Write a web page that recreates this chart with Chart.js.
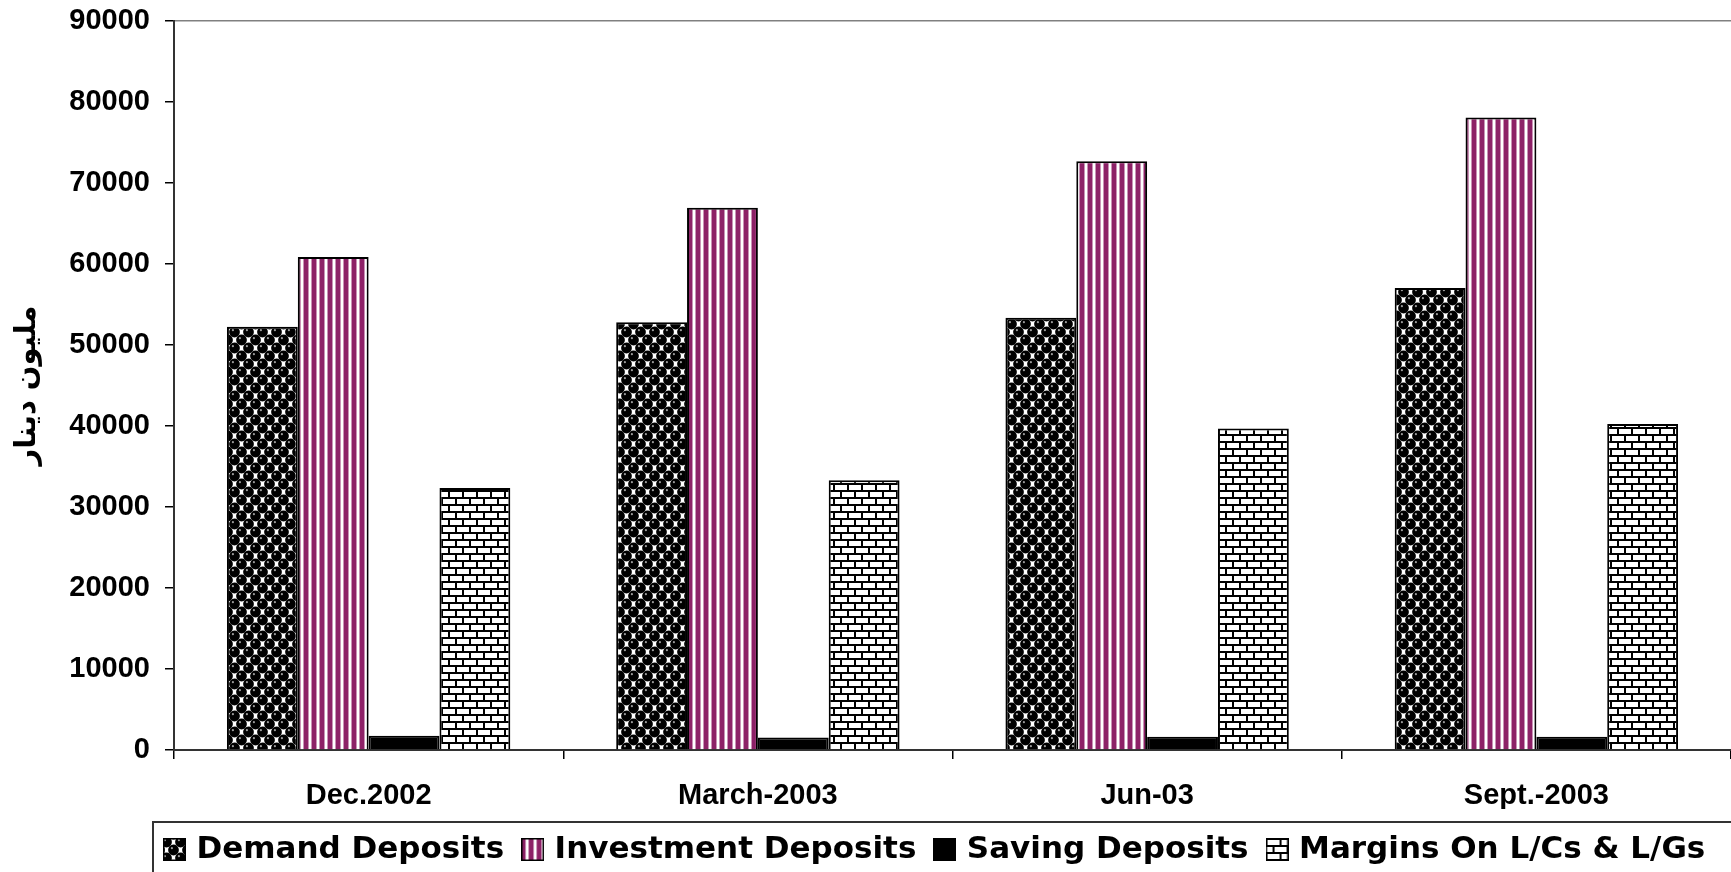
<!DOCTYPE html>
<html>
<head>
<meta charset="utf-8">
<script src="https://cdn.jsdelivr.net/npm/chart.js@4.4.0/dist/chart.umd.min.js"></script>
<style>
  html, body { margin: 0; padding: 0; background: #fff; overflow: hidden; }
  #wrap { width: 1731px; height: 872px; }
</style>
</head>
<body>
<div id="wrap"><canvas id="depositChart"></canvas></div>
<script>
// Deposits chart (million dinar)

const categories = ['Dec.2002', 'March-2003', 'Jun-03', 'Sept.-2003'];
const seriesLabels = ['Demand Deposits', 'Investment Deposits', 'Saving Deposits', 'Margins On L/Cs & L/Gs'];
const demandDeposits = [52250, 52800, 53350, 57050];
const investmentDeposits = [60850, 66950, 72700, 78100];
const savingDeposits = [1750, 1550, 1650, 1650];
const marginDeposits = [32350, 33300, 39700, 40250];
const yTicks = [0, 10000, 20000, 30000, 40000, 50000, 60000, 70000, 80000, 90000];
const yTitle = 'مليون دينار';

const TICK_FONT = { family: 'Liberation Sans', size: 29, weight: 'bold' };
const LEGEND_FONT = { family: 'DejaVu Sans', size: 31, weight: 'bold' };

function makeTile(w, h, draw) {
    const c = document.createElement('canvas');
    c.width = w;
    c.height = h;
    draw(c.getContext('2d'), w, h);
    return c;
}

// black spheres on white, offset every other row
const sphereTile = makeTile(14, 16, (g, w, h) => {
    g.fillStyle = '#fff';
    g.fillRect(0, 0, w, h);
    const centres = [[3.5, 4], [10.5, 12]];
    for (const [cx, cy] of centres) {
        for (const dx of [-w, 0, w]) {
            for (const dy of [-h, 0, h]) {
                g.fillStyle = '#000';
                g.beginPath();
                g.arc(cx + dx, cy + dy, 5.4, 0, Math.PI * 2);
                g.fill();
                g.fillStyle = '#9a9a9a';
                g.beginPath();
                g.arc(cx + dx - 1.6, cy + dy - 1.8, 1.1, 0, Math.PI * 2);
                g.fill();
            }
        }
    }
});

// purple vertical stripes
const stripeTile = makeTile(8, 4, (g) => {
    g.fillStyle = '#fff';
    g.fillRect(0, 0, 8, 4);
    g.fillStyle = '#8d2167';
    g.fillRect(0, 0, 4, 4);
    g.fillStyle = '#c992b6';
    g.fillRect(4, 0, 1, 4);
    g.fillRect(7, 0, 1, 4);
});

// brick wall
const brickTile = makeTile(14, 14, (g) => {
    g.fillStyle = '#fff';
    g.fillRect(0, 0, 14, 14);
    g.fillStyle = '#000';
    g.fillRect(0, 0, 14, 2);
    g.fillRect(0, 7, 14, 2);
    g.fillRect(0, 0, 2, 7);
    g.fillRect(7, 7, 2, 7);
});

const scratch = document.createElement('canvas').getContext('2d');
const fills = [
    scratch.createPattern(sphereTile, 'repeat'),
    scratch.createPattern(stripeTile, 'repeat'),
    '#000',
    scratch.createPattern(brickTile, 'repeat')
];

// legend keys: small framed squares with the same fills
const legendIcons = fills.map(f => makeTile(23, 23, (g) => {
    g.fillStyle = f;
    g.fillRect(0, 0, 23, 23);
    g.strokeStyle = '#000';
    g.lineWidth = 1.5;
    g.strokeRect(0.75, 0.75, 21.5, 21.5);
}));

const seriesData = [demandDeposits, investmentDeposits, savingDeposits, marginDeposits];

const legendFrame = {
    id: 'legendFrame',
    afterLayout(chart) {
        const lg = chart.legend;
        const h = lg.height;
        lg.left = 146;
        lg.top = 812;
        lg.bottom = lg.top + h;
    },
    afterDraw(chart) {
        const lg = chart.legend;
        const ctx = chart.ctx;
        ctx.save();
        ctx.strokeStyle = '#333';
        ctx.lineWidth = 2;
        ctx.strokeRect(lg.left + 7, lg.top + 10, chart.width, 100);
        ctx.restore();
    }
};

new Chart(document.getElementById('depositChart'), {
    type: 'bar',
    data: {
        labels: categories,
        datasets: seriesLabels.map((label, i) => ({
            label,
            data: seriesData[i],
            backgroundColor: fills[i],
            borderColor: '#000',
            borderWidth: 2,
            categoryPercentage: 0.728,
            barPercentage: 1
        }))
    },
    options: {
        responsive: true,
        maintainAspectRatio: false,
        animation: false,
        layout: { padding: { top: 21, right: 0, bottom: 0, left: 0 } },
        scales: {
            x: {
                grid: { drawOnChartArea: false, tickLength: 9, color: '#000', lineWidth: 1.5 },
                border: { color: '#333', width: 2 },
                ticks: { color: '#000', font: TICK_FONT, padding: 20, maxRotation: 0 },
                afterFit: s => { s.height = 59; }
            },
            y: {
                min: 0,
                max: 90000,
                afterBuildTicks: s => { s.ticks = yTicks.map(v => ({ value: v })); },
                ticks: { color: '#000', font: TICK_FONT, padding: 15, callback: v => String(v) },
                grid: {
                    color: c => (c.tick && c.tick.value === 90000 ? '#808080' : 'rgba(0,0,0,0)'),
                    tickColor: '#000',
                    tickLength: 9,
                    lineWidth: 1.5
                },
                border: { color: '#333', width: 2 },
                title: {
                    display: true,
                    text: yTitle,
                    color: '#000',
                    font: { family: 'DejaVu Sans', size: 29, weight: 'bold' },
                    padding: { top: 10, bottom: 0 }
                },
                afterFit: s => {
                    s.width = 174;
                    s.paddingTop = 0;
                }
            }
        },
        plugins: {
            legend: {
                position: 'bottom',
                align: 'start',
                labels: {
                    color: '#000',
                    font: LEGEND_FONT,
                    padding: 22,
                    usePointStyle: true,
                    boxWidth: 13,
                    boxHeight: 13,
                    generateLabels: chart => chart.data.datasets.map((ds, i) => ({
                        text: ds.label,
                        fillStyle: fills[i],
                        strokeStyle: '#000',
                        lineWidth: 1,
                        pointStyle: legendIcons[i],
                        datasetIndex: i,
                        hidden: false
                    }))
                }
            },
            tooltip: { enabled: false }
        }
    },
    plugins: [legendFrame]
});
</script>
</body>
</html>
